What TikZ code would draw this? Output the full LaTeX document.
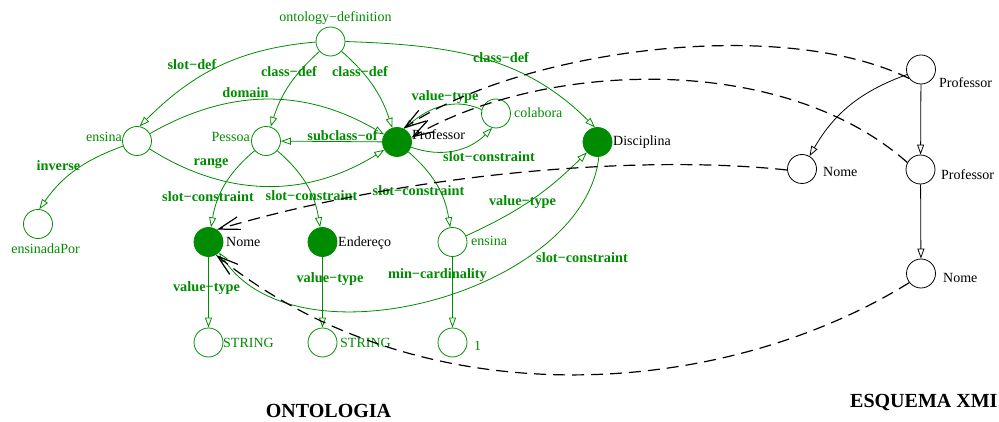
\documentclass[tikz,border=0pt]{standalone}
\usepackage{fontspec}
\setmainfont{Liberation Serif}
\usetikzlibrary{arrows.meta}
\definecolor{ontgreen}{RGB}{0,140,0}
\begin{document}
\begin{tikzpicture}[x=1pt,y=1pt,
  onode/.style={circle, draw=ontgreen, line width=0.8pt, minimum size=29pt, inner sep=0pt},
  cnode/.style={onode, fill=ontgreen},
  xnode/.style={circle, draw=black, line width=0.8pt, minimum size=29pt, inner sep=0pt},
  glabel/.style={text=ontgreen, font=\fontsize{14}{16}\selectfont, inner sep=0pt},
  blabel/.style={text=black, font=\fontsize{14}{16}\selectfont, inner sep=0pt},
  elabel/.style={text=ontgreen, font=\bfseries\fontsize{14.3}{16}\selectfont, inner sep=0pt},
  rel/.style={draw=ontgreen, line width=0.8pt, -{Triangle[open, length=10pt, width=7pt]}},
  xrel/.style={draw=black, line width=0.8pt, -{Triangle[open, length=10pt, width=7pt]}},
  mapping/.style={draw=black, line width=1.2pt, dash pattern=on 12pt off 7pt,
                  -{Straight Barb[length=21pt, width=13pt]}},
  title/.style={font=\bfseries\fontsize{20}{24}\selectfont, inner sep=0pt}
]
\useasboundingbox (0,0) rectangle (999,421);

% ontology nodes
\node[onode] (od) at (330.5,379.5) {};
\node[onode] (ensL) at (137,280) {};
\node[onode] (pes) at (266,280) {};
\node[cnode] (prof) at (397,279) {};
\node[onode] (col) at (496,307.5) {};
\node[cnode] (disc) at (597.5,279) {};
\node[onode] (inv) at (38,197) {};
\node[cnode] (nome) at (208.5,179) {};
\node[cnode] (ender) at (322.5,179) {};
\node[onode] (ensM) at (452.5,179) {};
\node[onode] (str1) at (208.5,78.5) {};
\node[onode] (str2) at (322.5,78.5) {};
\node[onode] (one) at (452.5,78.5) {};

% XMI schema nodes
\node[xnode] (xprof) at (921,351.5) {};
\node[xnode] (xnome) at (802,252) {};
\node[xnode] (xprof2) at (920.5,251.5) {};
\node[xnode] (xnome2) at (921,147.5) {};

% node names
\node[glabel] (t-od) at (335.5,403) {ontology−definition};
\node[glabel, anchor=east] (t-ensL) at (122,284) {ensina};
\node[glabel, anchor=east] (t-pes) at (250,284) {Pessoa};
\node[blabel, anchor=west] (t-prof) at (412,286) {Professor};
\node[glabel, anchor=west] (t-col) at (514,308.5) {colabora};
\node[blabel, anchor=west] (t-disc) at (613,279) {Disciplina};
\node[glabel] (t-inv) at (45.5,172) {ensinadaPor};
\node[blabel, anchor=west] (t-nome) at (226,179) {Nome};
\node[blabel, anchor=west] (t-ender) at (338,178) {Endereço};
\node[glabel, anchor=west] (t-ensM) at (471,180) {ensina};
\node[glabel, anchor=west] (t-str1) at (223,78) {STRING};
\node[glabel, anchor=west] (t-str2) at (340,78) {STRING};
\node[glabel] (t-one) at (477.5,75) {1};
\node[blabel, anchor=west] (t-xprof) at (939,338) {Professor};
\node[blabel, anchor=west] (t-xnome) at (823,249) {Nome};
\node[blabel, anchor=west] (t-xprof2) at (941,246) {Professor};
\node[blabel, anchor=west] (t-xnome2) at (943,143) {Nome};

% titles
\node[title] (t-onto) at (328.5,10) {ONTOLOGIA};
\node[title, anchor=west] (t-xmi) at (850,18.5) {ESQUEMA XMI};

% ontology relations
\draw[rel] (od.182) to[out=185, in=45] (ensL.80);
\draw[rel] (od) to[bend right=15] (pes);
\draw[rel] (od) to[bend left=15] (prof);
\draw[rel] (od.0) to[out=-2, in=135] (disc.100);
\draw[rel] (ensL) to[bend left=30] (prof);
\draw[rel] (ensL) to[bend right=32] (prof);
\draw[rel] (ensL.200) to[out=200, in=55] (inv.85);
\draw[rel] (prof) -- (pes);
\draw[rel] (col.165) to[out=155, in=40] (prof.62);
\draw[rel] (prof.-20) to[out=-20, in=225] (col.255);
\draw[rel] (pes) to[bend right=20] (nome);
\draw[rel] (pes) to[bend left=20] (ender);
\draw[rel] (prof) to[bend left=20] (ensM);
\draw[rel] (ensM) to[bend right=10] (disc);
\draw[rel] (disc.-85) .. controls (585,131) and (300,51) .. (nome.-45);
\draw[rel] (ensM) -- (one);
\draw[rel] (nome) -- (str1);
\draw[rel] (ender) -- (str2);

% relation names
\node[elabel] (e1) at (192,356) {slot−def};
\node[elabel] (e2) at (289,349) {class−def};
\node[elabel] (e3) at (360,349) {class−def};
\node[elabel] (e4) at (501,363) {class−def};
\node[elabel] (e5) at (245.5,328) {domain};
\node[elabel] (e6) at (342.5,285) {subclass−of};
\node[elabel] (e7) at (211,258) {range};
\node[elabel] (e8) at (58.5,255) {inverse};
\node[elabel] (e9) at (445,324) {value−type};
\node[elabel] (e10) at (489,264) {slot−constraint};
\node[elabel] (e11) at (208,224) {slot−constraint};
\node[elabel] (e12) at (311.5,225) {slot−constraint};
\node[elabel] (e13) at (418.5,230) {slot−constraint};
\node[elabel] (e14) at (522.5,219) {value−type};
\node[elabel] (e15) at (582,163) {slot−constraint};
\node[elabel] (e16) at (437.5,146) {min−cardinality};
\node[elabel] (e17) at (206.5,133) {value−type};
\node[elabel] (e18) at (330,142) {value−type};

% XMI schema relations
\draw[xrel] (xprof) to[bend right=20] (xnome);
\draw[xrel] (xprof) -- (xprof2);
\draw[xrel] (xprof2) -- (xnome2);

% mappings from the schema to the ontology
\draw[mapping] (xprof.217) .. controls (780,406) and (520,371) .. (prof.65);
\draw[mapping] (xprof2.152) .. controls (780,371) and (540,359) .. (prof.17);
\draw[mapping] (xnome.184) .. controls (650,266) and (420,251) .. (nome.56);
\draw[mapping] (xnome2.218) .. controls (720,21) and (420,1) .. (nome.-60);
\end{tikzpicture}
\end{document}
